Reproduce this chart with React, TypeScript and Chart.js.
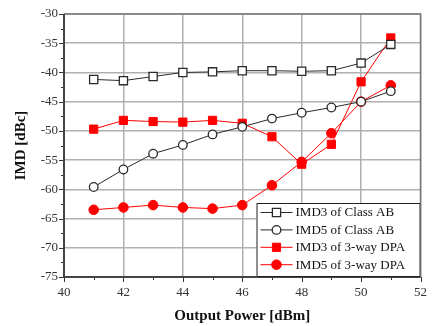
import React, { useEffect, useRef } from 'react';
import { Chart, registerables } from 'chart.js';

Chart.register(...registerables);

const outputPower = [41, 42, 43, 44, 45, 46, 47, 48, 49, 50, 51];
const imd3ClassAB = [-41.2, -41.4, -40.7, -40.0, -39.9, -39.7, -39.7, -39.8, -39.7, -38.4, -35.2];
const imd5ClassAB = [-59.6, -56.6, -53.9, -52.4, -50.6, -49.3, -47.9, -46.9, -46.0, -45.0, -43.2];
const imd3DPA = [-49.7, -48.2, -48.4, -48.5, -48.2, -48.7, -51.0, -55.7, -52.3, -41.6, -34.1];
const imd5DPA = [-63.5, -63.1, -62.7, -63.1, -63.3, -62.7, -59.3, -55.3, -50.4, -45.0, -42.2];
const seriesLabels = ['IMD3 of Class AB', 'IMD5 of Class AB', 'IMD3 of 3-way DPA', 'IMD5 of 3-way DPA'];
const xRange = [40, 52];
const yRange = [-75, -30];
const xTitle = 'Output Power [dBm]';
const yTitle = 'IMD [dBc]';

const FONT = '"Liberation Serif", "Times New Roman", serif';

const toPoints = (ys: number[]) => outputPower.map((x, i) => ({ x, y: ys[i] }));

const framePlugin = {
  id: 'frameAndLegend',
  beforeDatasetsDraw(chart: any) {
    const { ctx, chartArea: a, scales } = chart;
    const xs = scales.x;
    const ys = scales.y;
    ctx.save();
    ctx.strokeStyle = '#333';
    ctx.lineWidth = 1;
    for (let v = xRange[0]; v <= xRange[1]; v += 1) {
      const px = Math.round(xs.getPixelForValue(v)) + 0.5;
      const len = v % 2 === 0 ? 5 : 3;
      ctx.beginPath();
      ctx.moveTo(px, a.bottom);
      ctx.lineTo(px, a.bottom + len);
      ctx.stroke();
    }
    for (let v = yRange[0]; v <= yRange[1]; v += 2.5) {
      const py = Math.round(ys.getPixelForValue(v)) + 0.5;
      const len = v % 5 === 0 ? 5 : 3;
      ctx.beginPath();
      ctx.moveTo(a.left, py);
      ctx.lineTo(a.left - len, py);
      ctx.stroke();
    }
    ctx.strokeStyle = '#777';
    ctx.lineWidth = 1.5;
    ctx.beginPath();
    ctx.moveTo(a.left, a.top);
    ctx.lineTo(a.right, a.top);
    ctx.lineTo(a.right, a.bottom);
    ctx.stroke();
    ctx.strokeStyle = '#444';
    ctx.lineWidth = 2;
    ctx.beginPath();
    ctx.moveTo(a.left, a.top);
    ctx.lineTo(a.left, a.bottom);
    ctx.lineTo(a.right, a.bottom);
    ctx.stroke();
    ctx.restore();
  },
  afterDraw(chart: any) {
    const { ctx, chartArea: a } = chart;
    const boxW = 164;
    const boxH = 74;
    const bx = a.right - boxW;
    const by = a.bottom - boxH;
    ctx.save();
    ctx.fillStyle = '#fff';
    ctx.fillRect(bx, by, boxW, boxH);
    ctx.strokeStyle = '#222';
    ctx.lineWidth = 1;
    ctx.strokeRect(bx + 0.5, by + 0.5, boxW - 1, boxH - 1);
    ctx.font = '13px ' + FONT;
    ctx.textBaseline = 'middle';
    ctx.textAlign = 'left';
    chart.data.datasets.forEach((ds: any, i: number) => {
      const cy = by + 9.5 + i * 17.4;
      const x0 = bx + 4;
      const x1 = bx + 36;
      const cx = (x0 + x1) / 2;
      ctx.strokeStyle = ds.borderColor;
      ctx.lineWidth = 1;
      ctx.beginPath();
      ctx.moveTo(x0, cy);
      ctx.lineTo(x1, cy);
      ctx.stroke();
      ctx.fillStyle = ds.pointBackgroundColor;
      ctx.strokeStyle = ds.pointBorderColor;
      ctx.lineWidth = ds.pointBorderWidth;
      ctx.beginPath();
      if (ds.pointStyle === 'rect') {
        const s = ds.pointRadius * Math.SQRT1_2;
        ctx.rect(cx - s, cy - s, 2 * s, 2 * s);
      } else {
        ctx.arc(cx, cy, ds.pointRadius, 0, Math.PI * 2);
      }
      ctx.fill();
      ctx.stroke();
      ctx.fillStyle = '#111';
      ctx.fillText(ds.label, bx + 39, cy + 0.5);
    });
    ctx.restore();
  },
};

export default function App() {
  const ref = useRef<HTMLCanvasElement | null>(null);
  useEffect(() => {
    if (!ref.current) return;
    const black = '#2a2a2a';
    const red = '#ff0000';
    const chart = new Chart(ref.current, {
      type: 'line',
      data: {
        datasets: [
          {
            label: seriesLabels[0],
            data: toPoints(imd3ClassAB),
            borderColor: black,
            borderWidth: 1,
            pointStyle: 'rect',
            pointRadius: 5.8,
            pointBackgroundColor: '#fff',
            pointBorderColor: black,
            pointBorderWidth: 1.3,
          },
          {
            label: seriesLabels[1],
            data: toPoints(imd5ClassAB),
            borderColor: black,
            borderWidth: 1,
            pointStyle: 'circle',
            pointRadius: 4.3,
            pointBackgroundColor: '#fff',
            pointBorderColor: black,
            pointBorderWidth: 1.3,
          },
          {
            label: seriesLabels[2],
            data: toPoints(imd3DPA),
            borderColor: red,
            borderWidth: 1,
            pointStyle: 'rect',
            pointRadius: 5.8,
            pointBackgroundColor: red,
            pointBorderColor: red,
            pointBorderWidth: 1,
          },
          {
            label: seriesLabels[3],
            data: toPoints(imd5DPA),
            borderColor: red,
            borderWidth: 1,
            pointStyle: 'circle',
            pointRadius: 4.8,
            pointBackgroundColor: red,
            pointBorderColor: red,
            pointBorderWidth: 1,
          },
        ] as any,
      },
      options: {
        responsive: false,
        animation: false,
        layout: { padding: { top: 14, right: 13, left: 0, bottom: 0 } },
        plugins: { legend: { display: false }, tooltip: { enabled: false } },
        scales: {
          x: {
            type: 'linear',
            min: xRange[0],
            max: xRange[1],
            afterFit: (s: any) => { s.height = 49; },
            ticks: {
              stepSize: 2,
              padding: 8,
              color: '#333',
              font: { family: FONT, size: 13 },
            },
            grid: { color: '#b0b0b0', lineWidth: 1.5, drawTicks: false },
            border: { display: false },
            title: {
              display: true,
              text: xTitle,
              color: '#111',
              font: { family: FONT, size: 15, weight: 'bold' },
              padding: { top: 2, bottom: 1 },
            },
          },
          y: {
            type: 'linear',
            min: yRange[0],
            max: yRange[1],
            afterFit: (s: any) => { s.width = 64; },
            ticks: {
              stepSize: 5,
              padding: 6,
              color: '#333',
              font: { family: FONT, size: 13 },
            },
            grid: { color: '#b0b0b0', lineWidth: 1.5, drawTicks: false },
            border: { display: false },
            title: {
              display: true,
              text: yTitle,
              color: '#111',
              font: { family: FONT, size: 15, weight: 'bold' },
              padding: { top: 12, bottom: 0 },
            },
          },
        },
      },
      plugins: [framePlugin],
    });
    return () => chart.destroy();
  }, []);
  return (
    <div style={{ position: 'fixed', left: 0, top: 0, width: 435, height: 326, background: '#fff' }}>
      <canvas ref={ref} width={435} height={326} style={{ display: 'block' }} />
    </div>
  );
}
